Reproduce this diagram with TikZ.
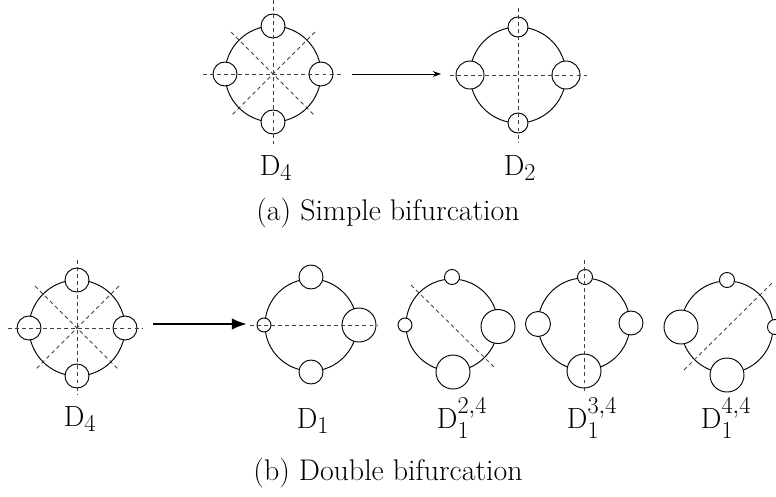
\documentclass[tikz,border=0pt]{standalone}
\usepackage{amsmath}
\usepackage{tikz}
\usetikzlibrary{arrows.meta, calc, positioning}

\begin{document}
\begin{tikzpicture}[x=0.03cm, y=-0.03cm,
    ring/.style={line width=0.8pt},
    bead/.style={line width=0.8pt, fill=white},
    axis/.style={black!75, line width=0.7pt, dash pattern=on 3.4pt off 2.6pt},
    lbl/.style={font=\fontsize{27.5}{30}\selectfont, inner sep=0pt, anchor=base},
    caption/.style={font=\fontsize{25.5}{28}\selectfont, inner sep=0pt, anchor=base}]
    \useasboundingbox (0,0) rectangle (776,496);

    % 上: D4
    \begin{scope}[shift={(273,74)}]
        \draw[ring] (0,0) circle (48);
        \foreach \a in {0,90,180,270}
            \draw[bead] (\a:48) circle (12);
        \draw[axis] (-70,0) -- (70,0);
        \draw[axis] (0,-74) -- (0,70);
        \draw[axis] (-42,-42) -- (42,42);
        \draw[axis] (42,-42) -- (-42,42);
        \coordinate (a1) at (79,0);
    \end{scope}
    \node[lbl] (d4a) at (276,175) {$\mathrm{D}_4$};

    % 上: D2
    \begin{scope}[shift={(518,75)}]
        \draw[ring] (0,0) circle (48);
        \draw[bead] (-48,0) circle (14);
        \draw[bead] (48,0) circle (14);
        \draw[bead] (0,-48) circle (10);
        \draw[bead] (0,48) circle (10);
        \draw[axis] (-68,0) -- (69,0);
        \draw[axis] (0,-67) -- (0,68);
        \coordinate (a2) at (-77,-1);
    \end{scope}
    \node[lbl] (d2a) at (520,175) {$\mathrm{D}_2$};

    % 箭头 (a)
    \draw[-{Stealth[length=7pt, width=5pt]}, line width=0.7pt] (a1) -- (a2);

    \node[caption] (capa) at (388,220) {(a) Simple bifurcation};

    % 下: D4
    \begin{scope}[shift={(77,328)}]
        \draw[ring] (0,0) circle (48);
        \foreach \a in {0,90,180,270}
            \draw[bead] (\a:48) circle (12);
        \draw[axis] (-69,0) -- (66,0);
        \draw[axis] (0,-68) -- (0,67);
        \draw[axis] (-42,-42) -- (42,42);
        \draw[axis] (42,-42) -- (-42,42);
        \coordinate (b1) at (76,-4);
    \end{scope}
    \node[lbl] (d4b) at (80,426) {$\mathrm{D}_4$};

    % D1
    \begin{scope}[shift={(311,325)}]
        \draw[ring] (0,0) circle (46);
        \draw[bead] (0,-48) circle (12);
        \draw[bead] (-47,0) circle (7);
        \draw[bead] (48,0) circle (17);
        \draw[bead] (0,47) circle (12);
        \draw[axis] (-61,0) -- (67,0);
        \coordinate (b2) at (-64,-1);
    \end{scope}
    \node[lbl] (d1) at (313,428) {$\mathrm{D}_1$};

    % 箭头 (b)
    \draw[-{Latex[length=13pt, width=10pt]}, line width=2.2pt] (b1) -- (b2);

    % D1^{2,4}
    \begin{scope}[shift={(452,325)}]
        \draw[ring] (0,0) circle (46);
        \draw[bead] (0,-48) circle (7.5);
        \draw[bead] (-47,0) circle (7);
        \draw[bead] (46,1.5) circle (17);
        \draw[bead] (1,47) circle (17);
        \draw[axis] (-41,-40) -- (43,43);
    \end{scope}
    \node[lbl] (d124) at (462,428) {$\mathrm{D}_1^{2,4}$};

    % D1^{3,4}
    \begin{scope}[shift={(584,324)}]
        \draw[ring] (0,0) circle (46);
        \draw[bead] (1,-47) circle (7.5);
        \draw[bead] (-46,0) circle (12.5);
        \draw[bead] (47,-1) circle (12);
        \draw[bead] (0,47) circle (17);
        \draw[axis] (0,-64) -- (0,68);
    \end{scope}
    \node[lbl] (d134) at (592,428) {$\mathrm{D}_1^{3,4}$};

    % D1^{4,4}
    \begin{scope}[shift={(727,327)}]
        \draw[ring] (0,0) circle (46);
        \draw[bead] (0,-47) circle (7.5);
        \draw[bead] (-46,0) circle (17);
        \draw[bead] (48,0) circle (7.5);
        \draw[bead] (0,48) circle (17);
        \draw[axis] (-43,43) -- (45,-44);
    \end{scope}
    \node[lbl] (d144) at (726,428) {$\mathrm{D}_1^{4,4}$};

    \node[caption] (capb) at (388,480) {(b) Double bifurcation};
\end{tikzpicture}
\end{document}
